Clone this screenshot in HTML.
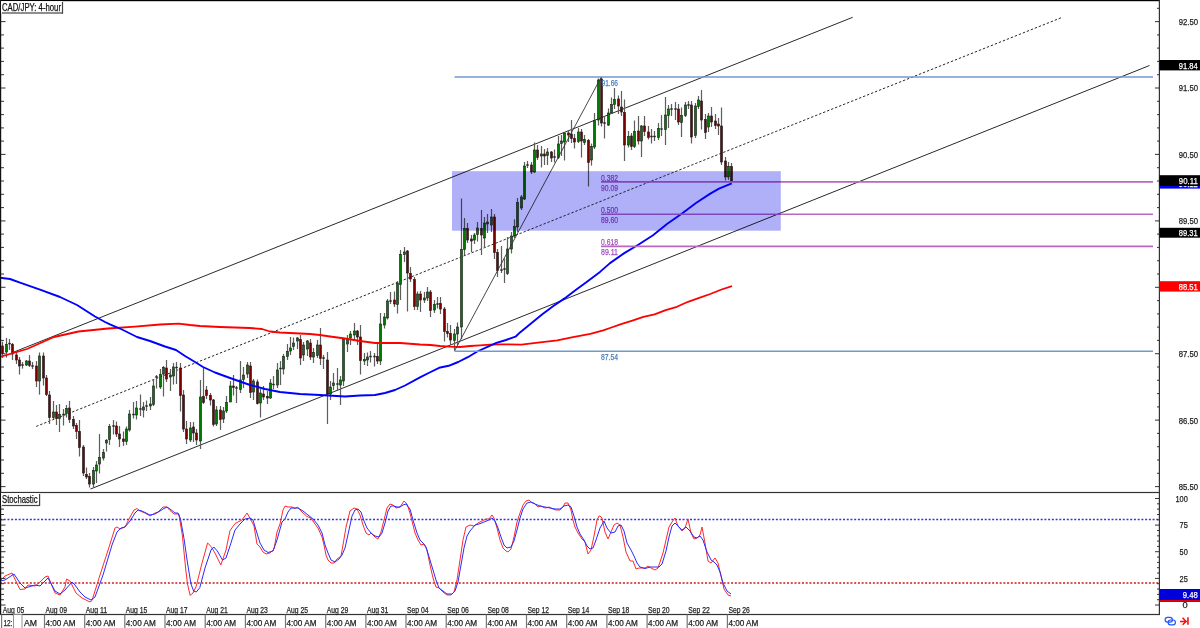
<!DOCTYPE html>
<html><head><meta charset="utf-8"><style>html,body{margin:0;padding:0;background:#fff;width:1200px;height:628px;overflow:hidden}</style></head>
<body><svg width="1200" height="628" viewBox="0 0 1200 628" style="display:block;font-family:'Liberation Sans', sans-serif"><rect width="1200" height="628" fill="#fff"/><g><line x1="14" y1="352" x2="852.7" y2="17.3" stroke="#2a2a2a" stroke-width="1"/><line x1="90.5" y1="489" x2="1149.5" y2="65.5" stroke="#2a2a2a" stroke-width="1"/><line x1="36.2" y1="426.4" x2="1061.3" y2="17.7" stroke="#2a2a2a" stroke-width="1" stroke-dasharray="2.4 1.9"/><rect x="1.90" y="341.7" width="1.2" height="16.3" fill="#5e5e5e"/><rect x="5.90" y="338.0" width="1.2" height="19.5" fill="#5e5e5e"/><rect x="8.90" y="339.0" width="1.2" height="11.0" fill="#5e5e5e"/><rect x="11.90" y="343.0" width="1.2" height="17.0" fill="#5e5e5e"/><rect x="15.90" y="352.0" width="1.2" height="12.0" fill="#5e5e5e"/><rect x="18.90" y="357.0" width="1.2" height="17.5" fill="#5e5e5e"/><rect x="21.90" y="362.0" width="1.2" height="6.6" fill="#5e5e5e"/><rect x="25.90" y="360.0" width="1.2" height="6.0" fill="#5e5e5e"/><rect x="28.90" y="355.0" width="1.2" height="12.0" fill="#5e5e5e"/><rect x="31.90" y="362.0" width="1.2" height="7.0" fill="#5e5e5e"/><rect x="35.90" y="361.0" width="1.2" height="26.0" fill="#5e5e5e"/><rect x="38.90" y="352.5" width="1.2" height="42.1" fill="#5e5e5e"/><rect x="42.90" y="352.5" width="1.2" height="33.0" fill="#5e5e5e"/><rect x="45.90" y="375.0" width="1.2" height="21.0" fill="#5e5e5e"/><rect x="48.90" y="391.0" width="1.2" height="33.0" fill="#5e5e5e"/><rect x="52.90" y="401.0" width="1.2" height="18.0" fill="#5e5e5e"/><rect x="55.90" y="405.0" width="1.2" height="20.0" fill="#5e5e5e"/><rect x="58.90" y="404.0" width="1.2" height="28.0" fill="#5e5e5e"/><rect x="62.90" y="409.0" width="1.2" height="16.5" fill="#5e5e5e"/><rect x="65.90" y="405.0" width="1.2" height="12.5" fill="#5e5e5e"/><rect x="68.90" y="401.0" width="1.2" height="22.0" fill="#5e5e5e"/><rect x="72.90" y="416.0" width="1.2" height="13.0" fill="#5e5e5e"/><rect x="75.90" y="423.0" width="1.2" height="16.0" fill="#5e5e5e"/><rect x="78.90" y="420.0" width="1.2" height="36.5" fill="#5e5e5e"/><rect x="82.90" y="445.0" width="1.2" height="31.0" fill="#5e5e5e"/><rect x="85.90" y="467.5" width="1.2" height="11.5" fill="#5e5e5e"/><rect x="88.90" y="473.0" width="1.2" height="14.5" fill="#5e5e5e"/><rect x="92.90" y="467.0" width="1.2" height="20.0" fill="#5e5e5e"/><rect x="95.90" y="461.0" width="1.2" height="22.0" fill="#5e5e5e"/><rect x="98.90" y="434.0" width="1.2" height="39.5" fill="#5e5e5e"/><rect x="102.90" y="449.0" width="1.2" height="11.5" fill="#5e5e5e"/><rect x="105.90" y="439.0" width="1.2" height="12.5" fill="#5e5e5e"/><rect x="108.90" y="424.0" width="1.2" height="21.0" fill="#5e5e5e"/><rect x="112.90" y="420.0" width="1.2" height="14.5" fill="#5e5e5e"/><rect x="115.90" y="421.5" width="1.2" height="15.5" fill="#5e5e5e"/><rect x="118.90" y="426.0" width="1.2" height="21.0" fill="#5e5e5e"/><rect x="122.90" y="431.5" width="1.2" height="14.5" fill="#5e5e5e"/><rect x="125.90" y="426.5" width="1.2" height="18.5" fill="#5e5e5e"/><rect x="128.90" y="410.0" width="1.2" height="21.5" fill="#5e5e5e"/><rect x="132.90" y="402.0" width="1.2" height="16.5" fill="#5e5e5e"/><rect x="135.90" y="401.0" width="1.2" height="18.5" fill="#5e5e5e"/><rect x="139.90" y="394.5" width="1.2" height="21.5" fill="#5e5e5e"/><rect x="142.90" y="402.0" width="1.2" height="15.5" fill="#5e5e5e"/><rect x="145.90" y="400.5" width="1.2" height="10.5" fill="#5e5e5e"/><rect x="149.90" y="397.0" width="1.2" height="13.0" fill="#5e5e5e"/><rect x="152.90" y="379.0" width="1.2" height="27.0" fill="#5e5e5e"/><rect x="155.90" y="375.0" width="1.2" height="13.5" fill="#5e5e5e"/><rect x="159.90" y="369.0" width="1.2" height="20.0" fill="#5e5e5e"/><rect x="162.90" y="366.0" width="1.2" height="30.5" fill="#5e5e5e"/><rect x="165.90" y="360.0" width="1.2" height="22.0" fill="#5e5e5e"/><rect x="169.90" y="369.0" width="1.2" height="22.0" fill="#5e5e5e"/><rect x="172.90" y="363.0" width="1.2" height="21.5" fill="#5e5e5e"/><rect x="175.90" y="362.0" width="1.2" height="22.0" fill="#5e5e5e"/><rect x="179.90" y="363.0" width="1.2" height="48.5" fill="#5e5e5e"/><rect x="182.90" y="390.0" width="1.2" height="42.0" fill="#5e5e5e"/><rect x="185.90" y="421.0" width="1.2" height="23.0" fill="#5e5e5e"/><rect x="189.90" y="422.0" width="1.2" height="20.0" fill="#5e5e5e"/><rect x="192.90" y="422.0" width="1.2" height="20.0" fill="#5e5e5e"/><rect x="195.90" y="429.0" width="1.2" height="16.0" fill="#5e5e5e"/><rect x="199.90" y="380.0" width="1.2" height="69.0" fill="#5e5e5e"/><rect x="202.90" y="368.0" width="1.2" height="36.0" fill="#5e5e5e"/><rect x="205.90" y="386.0" width="1.2" height="13.0" fill="#5e5e5e"/><rect x="209.90" y="393.0" width="1.2" height="12.5" fill="#5e5e5e"/><rect x="212.90" y="399.0" width="1.2" height="27.5" fill="#5e5e5e"/><rect x="215.90" y="406.0" width="1.2" height="20.0" fill="#5e5e5e"/><rect x="219.90" y="406.0" width="1.2" height="24.0" fill="#5e5e5e"/><rect x="222.90" y="407.0" width="1.2" height="16.0" fill="#5e5e5e"/><rect x="225.90" y="396.0" width="1.2" height="17.0" fill="#5e5e5e"/><rect x="229.90" y="381.0" width="1.2" height="21.0" fill="#5e5e5e"/><rect x="232.90" y="375.0" width="1.2" height="20.5" fill="#5e5e5e"/><rect x="235.90" y="386.0" width="1.2" height="17.0" fill="#5e5e5e"/><rect x="239.90" y="361.0" width="1.2" height="32.0" fill="#5e5e5e"/><rect x="242.90" y="367.0" width="1.2" height="21.0" fill="#5e5e5e"/><rect x="246.90" y="362.0" width="1.2" height="16.0" fill="#5e5e5e"/><rect x="249.90" y="362.0" width="1.2" height="36.0" fill="#5e5e5e"/><rect x="252.90" y="379.0" width="1.2" height="21.0" fill="#5e5e5e"/><rect x="256.90" y="379.5" width="1.2" height="25.0" fill="#5e5e5e"/><rect x="259.90" y="389.0" width="1.2" height="28.5" fill="#5e5e5e"/><rect x="262.90" y="386.0" width="1.2" height="14.0" fill="#5e5e5e"/><rect x="266.90" y="391.0" width="1.2" height="13.0" fill="#5e5e5e"/><rect x="269.90" y="379.0" width="1.2" height="20.0" fill="#5e5e5e"/><rect x="272.90" y="376.0" width="1.2" height="13.0" fill="#5e5e5e"/><rect x="276.90" y="363.0" width="1.2" height="25.0" fill="#5e5e5e"/><rect x="279.90" y="361.0" width="1.2" height="24.0" fill="#5e5e5e"/><rect x="282.90" y="354.0" width="1.2" height="20.5" fill="#5e5e5e"/><rect x="286.90" y="344.0" width="1.2" height="16.0" fill="#5e5e5e"/><rect x="289.90" y="337.0" width="1.2" height="18.0" fill="#5e5e5e"/><rect x="292.90" y="337.5" width="1.2" height="12.5" fill="#5e5e5e"/><rect x="296.90" y="337.0" width="1.2" height="12.0" fill="#5e5e5e"/><rect x="299.90" y="335.0" width="1.2" height="30.0" fill="#5e5e5e"/><rect x="302.90" y="342.0" width="1.2" height="19.0" fill="#5e5e5e"/><rect x="306.90" y="340.0" width="1.2" height="16.0" fill="#5e5e5e"/><rect x="309.90" y="339.0" width="1.2" height="21.0" fill="#5e5e5e"/><rect x="312.90" y="348.0" width="1.2" height="15.0" fill="#5e5e5e"/><rect x="316.90" y="340.0" width="1.2" height="18.0" fill="#5e5e5e"/><rect x="319.90" y="328.0" width="1.2" height="37.0" fill="#5e5e5e"/><rect x="322.90" y="355.0" width="1.2" height="14.0" fill="#5e5e5e"/><rect x="326.90" y="352.0" width="1.2" height="72.0" fill="#5e5e5e"/><rect x="329.90" y="381.0" width="1.2" height="19.0" fill="#5e5e5e"/><rect x="332.90" y="373.0" width="1.2" height="17.0" fill="#5e5e5e"/><rect x="336.90" y="368.0" width="1.2" height="23.0" fill="#5e5e5e"/><rect x="339.90" y="376.0" width="1.2" height="29.0" fill="#5e5e5e"/><rect x="342.90" y="338.0" width="1.2" height="48.0" fill="#5e5e5e"/><rect x="346.90" y="335.0" width="1.2" height="17.0" fill="#5e5e5e"/><rect x="349.90" y="331.0" width="1.2" height="14.0" fill="#5e5e5e"/><rect x="353.90" y="323.0" width="1.2" height="17.0" fill="#5e5e5e"/><rect x="356.90" y="330.0" width="1.2" height="15.0" fill="#5e5e5e"/><rect x="359.90" y="325.0" width="1.2" height="49.5" fill="#5e5e5e"/><rect x="363.90" y="353.0" width="1.2" height="12.0" fill="#5e5e5e"/><rect x="366.90" y="352.5" width="1.2" height="13.5" fill="#5e5e5e"/><rect x="369.90" y="351.0" width="1.2" height="11.5" fill="#5e5e5e"/><rect x="373.90" y="353.0" width="1.2" height="13.5" fill="#5e5e5e"/><rect x="376.90" y="343.5" width="1.2" height="20.5" fill="#5e5e5e"/><rect x="379.90" y="313.0" width="1.2" height="52.0" fill="#5e5e5e"/><rect x="383.90" y="313.0" width="1.2" height="15.5" fill="#5e5e5e"/><rect x="386.90" y="299.0" width="1.2" height="20.5" fill="#5e5e5e"/><rect x="389.90" y="292.0" width="1.2" height="12.0" fill="#5e5e5e"/><rect x="393.90" y="291.5" width="1.2" height="15.5" fill="#5e5e5e"/><rect x="396.90" y="281.0" width="1.2" height="32.5" fill="#5e5e5e"/><rect x="399.90" y="250.0" width="1.2" height="50.0" fill="#5e5e5e"/><rect x="403.90" y="247.0" width="1.2" height="15.0" fill="#5e5e5e"/><rect x="406.90" y="250.0" width="1.2" height="61.5" fill="#5e5e5e"/><rect x="409.90" y="267.0" width="1.2" height="15.0" fill="#5e5e5e"/><rect x="413.90" y="277.0" width="1.2" height="33.0" fill="#5e5e5e"/><rect x="416.90" y="291.5" width="1.2" height="18.5" fill="#5e5e5e"/><rect x="419.90" y="291.0" width="1.2" height="21.0" fill="#5e5e5e"/><rect x="423.90" y="292.0" width="1.2" height="11.0" fill="#5e5e5e"/><rect x="426.90" y="287.0" width="1.2" height="14.0" fill="#5e5e5e"/><rect x="429.90" y="290.0" width="1.2" height="27.0" fill="#5e5e5e"/><rect x="433.90" y="300.0" width="1.2" height="13.0" fill="#5e5e5e"/><rect x="436.90" y="297.0" width="1.2" height="11.5" fill="#5e5e5e"/><rect x="439.90" y="297.0" width="1.2" height="17.0" fill="#5e5e5e"/><rect x="443.90" y="307.0" width="1.2" height="34.5" fill="#5e5e5e"/><rect x="446.90" y="323.0" width="1.2" height="14.5" fill="#5e5e5e"/><rect x="449.90" y="325.0" width="1.2" height="20.0" fill="#5e5e5e"/><rect x="453.90" y="329.0" width="1.2" height="21.0" fill="#5e5e5e"/><rect x="456.90" y="322.5" width="1.2" height="22.5" fill="#5e5e5e"/><rect x="460.90" y="198.5" width="1.2" height="140.5" fill="#5e5e5e"/><rect x="463.90" y="218.0" width="1.2" height="37.0" fill="#5e5e5e"/><rect x="466.90" y="223.0" width="1.2" height="20.0" fill="#5e5e5e"/><rect x="470.90" y="235.0" width="1.2" height="17.0" fill="#5e5e5e"/><rect x="473.90" y="233.0" width="1.2" height="11.0" fill="#5e5e5e"/><rect x="476.90" y="222.0" width="1.2" height="19.5" fill="#5e5e5e"/><rect x="480.90" y="210.0" width="1.2" height="45.0" fill="#5e5e5e"/><rect x="483.90" y="217.0" width="1.2" height="31.0" fill="#5e5e5e"/><rect x="486.90" y="214.0" width="1.2" height="19.0" fill="#5e5e5e"/><rect x="490.90" y="209.0" width="1.2" height="23.0" fill="#5e5e5e"/><rect x="493.90" y="214.0" width="1.2" height="45.0" fill="#5e5e5e"/><rect x="496.90" y="249.0" width="1.2" height="28.0" fill="#5e5e5e"/><rect x="500.90" y="246.0" width="1.2" height="27.0" fill="#5e5e5e"/><rect x="503.90" y="258.5" width="1.2" height="24.5" fill="#5e5e5e"/><rect x="506.90" y="237.0" width="1.2" height="38.0" fill="#5e5e5e"/><rect x="510.90" y="232.0" width="1.2" height="21.5" fill="#5e5e5e"/><rect x="513.90" y="219.3" width="1.2" height="18.7" fill="#5e5e5e"/><rect x="516.90" y="198.0" width="1.2" height="34.0" fill="#5e5e5e"/><rect x="520.90" y="195.0" width="1.2" height="15.0" fill="#5e5e5e"/><rect x="523.90" y="162.0" width="1.2" height="38.0" fill="#5e5e5e"/><rect x="526.90" y="161.0" width="1.2" height="7.0" fill="#5e5e5e"/><rect x="530.90" y="162.0" width="1.2" height="12.0" fill="#5e5e5e"/><rect x="533.90" y="142.5" width="1.2" height="30.5" fill="#5e5e5e"/><rect x="536.90" y="145.0" width="1.2" height="15.0" fill="#5e5e5e"/><rect x="540.90" y="146.0" width="1.2" height="21.5" fill="#5e5e5e"/><rect x="543.90" y="149.0" width="1.2" height="16.0" fill="#5e5e5e"/><rect x="546.90" y="148.0" width="1.2" height="17.0" fill="#5e5e5e"/><rect x="550.90" y="151.0" width="1.2" height="11.0" fill="#5e5e5e"/><rect x="553.90" y="149.5" width="1.2" height="13.0" fill="#5e5e5e"/><rect x="557.90" y="136.0" width="1.2" height="23.0" fill="#5e5e5e"/><rect x="560.90" y="135.0" width="1.2" height="21.0" fill="#5e5e5e"/><rect x="563.90" y="132.0" width="1.2" height="28.5" fill="#5e5e5e"/><rect x="567.90" y="130.0" width="1.2" height="12.0" fill="#5e5e5e"/><rect x="570.90" y="120.0" width="1.2" height="23.0" fill="#5e5e5e"/><rect x="573.90" y="134.0" width="1.2" height="14.5" fill="#5e5e5e"/><rect x="577.90" y="128.0" width="1.2" height="15.0" fill="#5e5e5e"/><rect x="580.90" y="129.0" width="1.2" height="28.5" fill="#5e5e5e"/><rect x="583.90" y="135.0" width="1.2" height="10.0" fill="#5e5e5e"/><rect x="587.90" y="139.0" width="1.2" height="47.5" fill="#5e5e5e"/><rect x="590.90" y="143.6" width="1.2" height="22.0" fill="#5e5e5e"/><rect x="593.90" y="113.0" width="1.2" height="36.0" fill="#5e5e5e"/><rect x="597.90" y="78.5" width="1.2" height="47.0" fill="#5e5e5e"/><rect x="600.90" y="77.0" width="1.2" height="49.5" fill="#5e5e5e"/><rect x="603.90" y="116.5" width="1.2" height="22.0" fill="#5e5e5e"/><rect x="607.90" y="108.5" width="1.2" height="17.5" fill="#5e5e5e"/><rect x="610.90" y="97.5" width="1.2" height="16.5" fill="#5e5e5e"/><rect x="613.90" y="88.0" width="1.2" height="21.0" fill="#5e5e5e"/><rect x="617.90" y="95.5" width="1.2" height="18.5" fill="#5e5e5e"/><rect x="620.90" y="91.0" width="1.2" height="25.0" fill="#5e5e5e"/><rect x="623.90" y="99.5" width="1.2" height="61.5" fill="#5e5e5e"/><rect x="627.90" y="131.0" width="1.2" height="16.5" fill="#5e5e5e"/><rect x="630.90" y="133.0" width="1.2" height="17.0" fill="#5e5e5e"/><rect x="633.90" y="120.5" width="1.2" height="27.5" fill="#5e5e5e"/><rect x="637.90" y="116.0" width="1.2" height="28.5" fill="#5e5e5e"/><rect x="640.90" y="125.0" width="1.2" height="32.0" fill="#5e5e5e"/><rect x="643.90" y="116.0" width="1.2" height="20.0" fill="#5e5e5e"/><rect x="647.90" y="126.0" width="1.2" height="13.5" fill="#5e5e5e"/><rect x="650.90" y="129.0" width="1.2" height="14.5" fill="#5e5e5e"/><rect x="653.90" y="131.0" width="1.2" height="10.0" fill="#5e5e5e"/><rect x="657.90" y="123.0" width="1.2" height="17.0" fill="#5e5e5e"/><rect x="660.90" y="115.0" width="1.2" height="21.0" fill="#5e5e5e"/><rect x="664.90" y="97.0" width="1.2" height="48.0" fill="#5e5e5e"/><rect x="667.90" y="105.0" width="1.2" height="23.0" fill="#5e5e5e"/><rect x="670.90" y="104.0" width="1.2" height="12.0" fill="#5e5e5e"/><rect x="674.90" y="102.0" width="1.2" height="18.0" fill="#5e5e5e"/><rect x="677.90" y="104.0" width="1.2" height="21.0" fill="#5e5e5e"/><rect x="680.90" y="107.5" width="1.2" height="29.5" fill="#5e5e5e"/><rect x="684.90" y="102.0" width="1.2" height="15.0" fill="#5e5e5e"/><rect x="687.90" y="101.0" width="1.2" height="8.0" fill="#5e5e5e"/><rect x="690.90" y="101.0" width="1.2" height="42.5" fill="#5e5e5e"/><rect x="694.90" y="103.0" width="1.2" height="35.0" fill="#5e5e5e"/><rect x="697.90" y="96.0" width="1.2" height="13.0" fill="#5e5e5e"/><rect x="700.90" y="90.0" width="1.2" height="39.5" fill="#5e5e5e"/><rect x="704.90" y="114.0" width="1.2" height="25.0" fill="#5e5e5e"/><rect x="707.90" y="113.0" width="1.2" height="19.0" fill="#5e5e5e"/><rect x="710.90" y="107.0" width="1.2" height="20.0" fill="#5e5e5e"/><rect x="714.90" y="114.0" width="1.2" height="15.0" fill="#5e5e5e"/><rect x="717.90" y="118.0" width="1.2" height="17.0" fill="#5e5e5e"/><rect x="720.90" y="107.5" width="1.2" height="57.5" fill="#5e5e5e"/><rect x="724.90" y="157.0" width="1.2" height="23.5" fill="#5e5e5e"/><rect x="727.90" y="162.0" width="1.2" height="18.0" fill="#5e5e5e"/><rect x="730.90" y="163.0" width="1.2" height="18.5" fill="#5e5e5e"/><rect x="1.50" y="346.0" width="2" height="7.6" fill="#7a0000" stroke="#1a1a1a" stroke-width="0.6"/><rect x="5.50" y="344.5" width="2" height="7.5" fill="#007a00" stroke="#1a1a1a" stroke-width="0.6"/><rect x="8.25" y="342.9" width="2.5" height="1.4" fill="#222"/><rect x="11.50" y="344.5" width="2" height="9.5" fill="#7a0000" stroke="#1a1a1a" stroke-width="0.6"/><rect x="15.50" y="355.0" width="2" height="5.0" fill="#7a0000" stroke="#1a1a1a" stroke-width="0.6"/><rect x="18.50" y="360.0" width="2" height="6.0" fill="#7a0000" stroke="#1a1a1a" stroke-width="0.6"/><rect x="21.25" y="364.3" width="2.5" height="1.4" fill="#222"/><rect x="25.50" y="361.0" width="2" height="4.0" fill="#007a00" stroke="#1a1a1a" stroke-width="0.6"/><rect x="28.50" y="361.0" width="2" height="4.5" fill="#7a0000" stroke="#1a1a1a" stroke-width="0.6"/><rect x="31.25" y="365.3" width="2.5" height="1.4" fill="#222"/><rect x="35.50" y="366.0" width="2" height="15.0" fill="#7a0000" stroke="#1a1a1a" stroke-width="0.6"/><rect x="38.50" y="356.0" width="2" height="25.0" fill="#007a00" stroke="#1a1a1a" stroke-width="0.6"/><rect x="42.50" y="356.0" width="2" height="22.0" fill="#7a0000" stroke="#1a1a1a" stroke-width="0.6"/><rect x="45.50" y="378.0" width="2" height="16.5" fill="#7a0000" stroke="#1a1a1a" stroke-width="0.6"/><rect x="48.50" y="395.0" width="2" height="22.5" fill="#7a0000" stroke="#1a1a1a" stroke-width="0.6"/><rect x="52.50" y="412.0" width="2" height="5.5" fill="#007a00" stroke="#1a1a1a" stroke-width="0.6"/><rect x="55.50" y="412.0" width="2" height="6.5" fill="#7a0000" stroke="#1a1a1a" stroke-width="0.6"/><rect x="58.50" y="414.5" width="2" height="4.0" fill="#007a00" stroke="#1a1a1a" stroke-width="0.6"/><rect x="62.25" y="413.8" width="2.5" height="1.4" fill="#222"/><rect x="65.50" y="408.5" width="2" height="5.0" fill="#007a00" stroke="#1a1a1a" stroke-width="0.6"/><rect x="68.50" y="408.0" width="2" height="11.5" fill="#7a0000" stroke="#1a1a1a" stroke-width="0.6"/><rect x="72.50" y="419.5" width="2" height="6.5" fill="#7a0000" stroke="#1a1a1a" stroke-width="0.6"/><rect x="75.50" y="425.5" width="2" height="6.0" fill="#7a0000" stroke="#1a1a1a" stroke-width="0.6"/><rect x="78.50" y="431.5" width="2" height="16.0" fill="#7a0000" stroke="#1a1a1a" stroke-width="0.6"/><rect x="82.50" y="447.0" width="2" height="26.0" fill="#7a0000" stroke="#1a1a1a" stroke-width="0.6"/><rect x="85.50" y="474.5" width="2" height="2.5" fill="#7a0000" stroke="#1a1a1a" stroke-width="0.6"/><rect x="88.50" y="476.5" width="2" height="7.5" fill="#7a0000" stroke="#1a1a1a" stroke-width="0.6"/><rect x="92.50" y="470.5" width="2" height="13.5" fill="#007a00" stroke="#1a1a1a" stroke-width="0.6"/><rect x="95.50" y="465.0" width="2" height="6.0" fill="#007a00" stroke="#1a1a1a" stroke-width="0.6"/><rect x="98.50" y="457.5" width="2" height="6.5" fill="#007a00" stroke="#1a1a1a" stroke-width="0.6"/><rect x="102.50" y="452.5" width="2" height="5.5" fill="#007a00" stroke="#1a1a1a" stroke-width="0.6"/><rect x="105.50" y="440.5" width="2" height="2.5" fill="#007a00" stroke="#1a1a1a" stroke-width="0.6"/><rect x="108.50" y="426.5" width="2" height="13.0" fill="#007a00" stroke="#1a1a1a" stroke-width="0.6"/><rect x="112.25" y="425.3" width="2.5" height="1.4" fill="#222"/><rect x="115.50" y="426.0" width="2" height="8.0" fill="#7a0000" stroke="#1a1a1a" stroke-width="0.6"/><rect x="118.50" y="434.0" width="2" height="5.0" fill="#7a0000" stroke="#1a1a1a" stroke-width="0.6"/><rect x="122.50" y="439.0" width="2" height="2.5" fill="#7a0000" stroke="#1a1a1a" stroke-width="0.6"/><rect x="125.50" y="429.0" width="2" height="12.5" fill="#007a00" stroke="#1a1a1a" stroke-width="0.6"/><rect x="128.50" y="414.0" width="2" height="16.0" fill="#007a00" stroke="#1a1a1a" stroke-width="0.6"/><rect x="132.25" y="413.8" width="2.5" height="1.4" fill="#222"/><rect x="135.50" y="408.0" width="2" height="7.0" fill="#007a00" stroke="#1a1a1a" stroke-width="0.6"/><rect x="139.25" y="408.3" width="2.5" height="1.4" fill="#222"/><rect x="142.50" y="407.0" width="2" height="3.0" fill="#007a00" stroke="#1a1a1a" stroke-width="0.6"/><rect x="145.25" y="405.3" width="2.5" height="1.4" fill="#222"/><rect x="149.50" y="404.0" width="2" height="2.0" fill="#007a00" stroke="#1a1a1a" stroke-width="0.6"/><rect x="152.50" y="386.0" width="2" height="18.5" fill="#007a00" stroke="#1a1a1a" stroke-width="0.6"/><rect x="155.25" y="376.3" width="2.5" height="1.4" fill="#222"/><rect x="159.50" y="374.5" width="2" height="12.5" fill="#007a00" stroke="#1a1a1a" stroke-width="0.6"/><rect x="162.50" y="367.5" width="2" height="6.5" fill="#007a00" stroke="#1a1a1a" stroke-width="0.6"/><rect x="165.50" y="368.0" width="2" height="11.0" fill="#7a0000" stroke="#1a1a1a" stroke-width="0.6"/><rect x="169.50" y="375.0" width="2" height="2.0" fill="#007a00" stroke="#1a1a1a" stroke-width="0.6"/><rect x="172.50" y="367.0" width="2" height="9.0" fill="#007a00" stroke="#1a1a1a" stroke-width="0.6"/><rect x="175.25" y="366.8" width="2.5" height="1.4" fill="#222"/><rect x="179.50" y="368.0" width="2" height="27.5" fill="#7a0000" stroke="#1a1a1a" stroke-width="0.6"/><rect x="182.50" y="395.0" width="2" height="34.0" fill="#7a0000" stroke="#1a1a1a" stroke-width="0.6"/><rect x="185.50" y="429.0" width="2" height="10.0" fill="#7a0000" stroke="#1a1a1a" stroke-width="0.6"/><rect x="189.50" y="428.0" width="2" height="12.0" fill="#007a00" stroke="#1a1a1a" stroke-width="0.6"/><rect x="192.50" y="427.0" width="2" height="6.0" fill="#7a0000" stroke="#1a1a1a" stroke-width="0.6"/><rect x="195.50" y="433.0" width="2" height="7.0" fill="#7a0000" stroke="#1a1a1a" stroke-width="0.6"/><rect x="199.50" y="397.0" width="2" height="44.0" fill="#007a00" stroke="#1a1a1a" stroke-width="0.6"/><rect x="202.50" y="396.5" width="2" height="6.0" fill="#7a0000" stroke="#1a1a1a" stroke-width="0.6"/><rect x="205.50" y="390.0" width="2" height="5.5" fill="#7a0000" stroke="#1a1a1a" stroke-width="0.6"/><rect x="209.50" y="395.5" width="2" height="4.5" fill="#7a0000" stroke="#1a1a1a" stroke-width="0.6"/><rect x="212.50" y="400.0" width="2" height="24.5" fill="#7a0000" stroke="#1a1a1a" stroke-width="0.6"/><rect x="215.50" y="410.0" width="2" height="14.0" fill="#007a00" stroke="#1a1a1a" stroke-width="0.6"/><rect x="219.50" y="410.0" width="2" height="9.5" fill="#7a0000" stroke="#1a1a1a" stroke-width="0.6"/><rect x="222.50" y="411.0" width="2" height="8.0" fill="#007a00" stroke="#1a1a1a" stroke-width="0.6"/><rect x="225.50" y="402.5" width="2" height="8.5" fill="#007a00" stroke="#1a1a1a" stroke-width="0.6"/><rect x="229.50" y="386.0" width="2" height="16.0" fill="#007a00" stroke="#1a1a1a" stroke-width="0.6"/><rect x="232.50" y="386.0" width="2" height="1.5" fill="#7a0000" stroke="#1a1a1a" stroke-width="0.6"/><rect x="235.25" y="387.3" width="2.5" height="1.4" fill="#222"/><rect x="239.50" y="380.0" width="2" height="9.5" fill="#007a00" stroke="#1a1a1a" stroke-width="0.6"/><rect x="242.50" y="375.0" width="2" height="4.5" fill="#007a00" stroke="#1a1a1a" stroke-width="0.6"/><rect x="246.50" y="365.0" width="2" height="9.0" fill="#007a00" stroke="#1a1a1a" stroke-width="0.6"/><rect x="249.50" y="366.0" width="2" height="26.5" fill="#7a0000" stroke="#1a1a1a" stroke-width="0.6"/><rect x="252.50" y="381.0" width="2" height="11.0" fill="#007a00" stroke="#1a1a1a" stroke-width="0.6"/><rect x="256.50" y="382.0" width="2" height="21.5" fill="#7a0000" stroke="#1a1a1a" stroke-width="0.6"/><rect x="259.50" y="393.0" width="2" height="10.0" fill="#007a00" stroke="#1a1a1a" stroke-width="0.6"/><rect x="262.50" y="394.0" width="2" height="3.0" fill="#7a0000" stroke="#1a1a1a" stroke-width="0.6"/><rect x="266.50" y="396.5" width="2" height="1.5" fill="#7a0000" stroke="#1a1a1a" stroke-width="0.6"/><rect x="269.50" y="383.0" width="2" height="15.0" fill="#007a00" stroke="#1a1a1a" stroke-width="0.6"/><rect x="272.25" y="383.8" width="2.5" height="1.4" fill="#222"/><rect x="276.50" y="370.0" width="2" height="15.0" fill="#007a00" stroke="#1a1a1a" stroke-width="0.6"/><rect x="279.25" y="367.8" width="2.5" height="1.4" fill="#222"/><rect x="282.50" y="356.5" width="2" height="12.5" fill="#007a00" stroke="#1a1a1a" stroke-width="0.6"/><rect x="286.50" y="351.5" width="2" height="5.0" fill="#007a00" stroke="#1a1a1a" stroke-width="0.6"/><rect x="289.50" y="348.0" width="2" height="3.0" fill="#007a00" stroke="#1a1a1a" stroke-width="0.6"/><rect x="292.50" y="343.0" width="2" height="3.5" fill="#007a00" stroke="#1a1a1a" stroke-width="0.6"/><rect x="296.50" y="338.0" width="2" height="3.0" fill="#007a00" stroke="#1a1a1a" stroke-width="0.6"/><rect x="299.50" y="339.5" width="2" height="18.5" fill="#7a0000" stroke="#1a1a1a" stroke-width="0.6"/><rect x="302.50" y="345.0" width="2" height="10.0" fill="#007a00" stroke="#1a1a1a" stroke-width="0.6"/><rect x="306.50" y="341.0" width="2" height="8.0" fill="#007a00" stroke="#1a1a1a" stroke-width="0.6"/><rect x="309.50" y="343.0" width="2" height="14.0" fill="#7a0000" stroke="#1a1a1a" stroke-width="0.6"/><rect x="312.50" y="352.5" width="2" height="4.5" fill="#007a00" stroke="#1a1a1a" stroke-width="0.6"/><rect x="316.50" y="345.0" width="2" height="10.5" fill="#007a00" stroke="#1a1a1a" stroke-width="0.6"/><rect x="319.50" y="345.0" width="2" height="13.5" fill="#7a0000" stroke="#1a1a1a" stroke-width="0.6"/><rect x="322.25" y="357.3" width="2.5" height="1.4" fill="#222"/><rect x="326.50" y="360.0" width="2" height="34.0" fill="#7a0000" stroke="#1a1a1a" stroke-width="0.6"/><rect x="329.50" y="387.0" width="2" height="7.0" fill="#007a00" stroke="#1a1a1a" stroke-width="0.6"/><rect x="332.50" y="383.0" width="2" height="2.5" fill="#007a00" stroke="#1a1a1a" stroke-width="0.6"/><rect x="336.25" y="383.3" width="2.5" height="1.4" fill="#222"/><rect x="339.50" y="380.0" width="2" height="5.0" fill="#007a00" stroke="#1a1a1a" stroke-width="0.6"/><rect x="342.50" y="339.0" width="2" height="42.0" fill="#007a00" stroke="#1a1a1a" stroke-width="0.6"/><rect x="346.50" y="339.0" width="2" height="5.0" fill="#007a00" stroke="#1a1a1a" stroke-width="0.6"/><rect x="349.50" y="334.0" width="2" height="4.0" fill="#007a00" stroke="#1a1a1a" stroke-width="0.6"/><rect x="353.50" y="331.0" width="2" height="4.0" fill="#007a00" stroke="#1a1a1a" stroke-width="0.6"/><rect x="356.50" y="331.0" width="2" height="6.0" fill="#7a0000" stroke="#1a1a1a" stroke-width="0.6"/><rect x="359.50" y="337.0" width="2" height="23.5" fill="#7a0000" stroke="#1a1a1a" stroke-width="0.6"/><rect x="363.50" y="359.5" width="2" height="1.5" fill="#007a00" stroke="#1a1a1a" stroke-width="0.6"/><rect x="366.50" y="357.0" width="2" height="3.0" fill="#007a00" stroke="#1a1a1a" stroke-width="0.6"/><rect x="369.25" y="355.8" width="2.5" height="1.4" fill="#222"/><rect x="373.25" y="355.8" width="2.5" height="1.4" fill="#222"/><rect x="376.50" y="356.5" width="2" height="4.5" fill="#7a0000" stroke="#1a1a1a" stroke-width="0.6"/><rect x="379.50" y="324.0" width="2" height="37.0" fill="#007a00" stroke="#1a1a1a" stroke-width="0.6"/><rect x="383.50" y="317.0" width="2" height="8.0" fill="#007a00" stroke="#1a1a1a" stroke-width="0.6"/><rect x="386.50" y="301.0" width="2" height="17.0" fill="#007a00" stroke="#1a1a1a" stroke-width="0.6"/><rect x="389.25" y="300.3" width="2.5" height="1.4" fill="#222"/><rect x="393.50" y="300.0" width="2" height="4.0" fill="#7a0000" stroke="#1a1a1a" stroke-width="0.6"/><rect x="396.50" y="283.0" width="2" height="21.5" fill="#007a00" stroke="#1a1a1a" stroke-width="0.6"/><rect x="399.50" y="254.5" width="2" height="30.0" fill="#007a00" stroke="#1a1a1a" stroke-width="0.6"/><rect x="403.50" y="252.0" width="2" height="2.5" fill="#007a00" stroke="#1a1a1a" stroke-width="0.6"/><rect x="406.50" y="251.0" width="2" height="22.0" fill="#7a0000" stroke="#1a1a1a" stroke-width="0.6"/><rect x="409.50" y="273.5" width="2" height="5.5" fill="#7a0000" stroke="#1a1a1a" stroke-width="0.6"/><rect x="413.50" y="279.5" width="2" height="27.0" fill="#7a0000" stroke="#1a1a1a" stroke-width="0.6"/><rect x="416.50" y="294.0" width="2" height="12.5" fill="#007a00" stroke="#1a1a1a" stroke-width="0.6"/><rect x="419.50" y="294.0" width="2" height="6.0" fill="#7a0000" stroke="#1a1a1a" stroke-width="0.6"/><rect x="423.50" y="298.0" width="2" height="2.0" fill="#007a00" stroke="#1a1a1a" stroke-width="0.6"/><rect x="426.50" y="292.0" width="2" height="6.0" fill="#007a00" stroke="#1a1a1a" stroke-width="0.6"/><rect x="429.50" y="292.0" width="2" height="18.5" fill="#7a0000" stroke="#1a1a1a" stroke-width="0.6"/><rect x="433.50" y="304.5" width="2" height="5.5" fill="#007a00" stroke="#1a1a1a" stroke-width="0.6"/><rect x="436.25" y="303.3" width="2.5" height="1.4" fill="#222"/><rect x="439.50" y="303.5" width="2" height="5.5" fill="#7a0000" stroke="#1a1a1a" stroke-width="0.6"/><rect x="443.50" y="309.0" width="2" height="22.5" fill="#7a0000" stroke="#1a1a1a" stroke-width="0.6"/><rect x="446.50" y="331.5" width="2" height="2.0" fill="#7a0000" stroke="#1a1a1a" stroke-width="0.6"/><rect x="449.50" y="333.5" width="2" height="6.5" fill="#7a0000" stroke="#1a1a1a" stroke-width="0.6"/><rect x="453.50" y="334.0" width="2" height="6.5" fill="#007a00" stroke="#1a1a1a" stroke-width="0.6"/><rect x="456.50" y="327.0" width="2" height="7.0" fill="#007a00" stroke="#1a1a1a" stroke-width="0.6"/><rect x="460.50" y="249.5" width="2" height="77.5" fill="#007a00" stroke="#1a1a1a" stroke-width="0.6"/><rect x="463.50" y="228.5" width="2" height="21.0" fill="#007a00" stroke="#1a1a1a" stroke-width="0.6"/><rect x="466.50" y="228.5" width="2" height="11.5" fill="#7a0000" stroke="#1a1a1a" stroke-width="0.6"/><rect x="470.50" y="239.0" width="2" height="2.0" fill="#7a0000" stroke="#1a1a1a" stroke-width="0.6"/><rect x="473.50" y="235.0" width="2" height="5.0" fill="#007a00" stroke="#1a1a1a" stroke-width="0.6"/><rect x="476.50" y="228.0" width="2" height="6.5" fill="#007a00" stroke="#1a1a1a" stroke-width="0.6"/><rect x="480.50" y="228.5" width="2" height="6.5" fill="#7a0000" stroke="#1a1a1a" stroke-width="0.6"/><rect x="483.50" y="223.0" width="2" height="15.0" fill="#007a00" stroke="#1a1a1a" stroke-width="0.6"/><rect x="486.50" y="222.0" width="2" height="2.0" fill="#007a00" stroke="#1a1a1a" stroke-width="0.6"/><rect x="490.50" y="217.0" width="2" height="8.0" fill="#007a00" stroke="#1a1a1a" stroke-width="0.6"/><rect x="493.50" y="217.0" width="2" height="35.5" fill="#7a0000" stroke="#1a1a1a" stroke-width="0.6"/><rect x="496.50" y="252.5" width="2" height="18.0" fill="#7a0000" stroke="#1a1a1a" stroke-width="0.6"/><rect x="500.25" y="269.3" width="2.5" height="1.4" fill="#222"/><rect x="503.25" y="268.3" width="2.5" height="1.4" fill="#222"/><rect x="506.50" y="249.0" width="2" height="24.5" fill="#007a00" stroke="#1a1a1a" stroke-width="0.6"/><rect x="510.50" y="236.0" width="2" height="13.0" fill="#007a00" stroke="#1a1a1a" stroke-width="0.6"/><rect x="513.50" y="226.5" width="2" height="9.5" fill="#007a00" stroke="#1a1a1a" stroke-width="0.6"/><rect x="516.50" y="202.5" width="2" height="24.5" fill="#007a00" stroke="#1a1a1a" stroke-width="0.6"/><rect x="520.50" y="197.0" width="2" height="11.0" fill="#007a00" stroke="#1a1a1a" stroke-width="0.6"/><rect x="523.50" y="166.0" width="2" height="33.0" fill="#007a00" stroke="#1a1a1a" stroke-width="0.6"/><rect x="526.25" y="164.3" width="2.5" height="1.4" fill="#222"/><rect x="530.50" y="165.0" width="2" height="7.0" fill="#7a0000" stroke="#1a1a1a" stroke-width="0.6"/><rect x="533.50" y="150.0" width="2" height="22.0" fill="#007a00" stroke="#1a1a1a" stroke-width="0.6"/><rect x="536.50" y="150.0" width="2" height="7.5" fill="#7a0000" stroke="#1a1a1a" stroke-width="0.6"/><rect x="540.50" y="154.0" width="2" height="2.0" fill="#007a00" stroke="#1a1a1a" stroke-width="0.6"/><rect x="543.50" y="154.0" width="2" height="2.0" fill="#7a0000" stroke="#1a1a1a" stroke-width="0.6"/><rect x="546.50" y="152.0" width="2" height="3.5" fill="#007a00" stroke="#1a1a1a" stroke-width="0.6"/><rect x="550.50" y="152.0" width="2" height="6.0" fill="#7a0000" stroke="#1a1a1a" stroke-width="0.6"/><rect x="553.25" y="156.3" width="2.5" height="1.4" fill="#222"/><rect x="557.50" y="144.0" width="2" height="13.5" fill="#007a00" stroke="#1a1a1a" stroke-width="0.6"/><rect x="560.50" y="141.0" width="2" height="2.5" fill="#007a00" stroke="#1a1a1a" stroke-width="0.6"/><rect x="563.50" y="133.0" width="2" height="9.0" fill="#007a00" stroke="#1a1a1a" stroke-width="0.6"/><rect x="567.50" y="133.0" width="2" height="2.0" fill="#7a0000" stroke="#1a1a1a" stroke-width="0.6"/><rect x="570.50" y="134.0" width="2" height="4.5" fill="#7a0000" stroke="#1a1a1a" stroke-width="0.6"/><rect x="573.50" y="138.5" width="2" height="3.5" fill="#7a0000" stroke="#1a1a1a" stroke-width="0.6"/><rect x="577.50" y="132.0" width="2" height="9.5" fill="#007a00" stroke="#1a1a1a" stroke-width="0.6"/><rect x="580.50" y="132.0" width="2" height="9.0" fill="#7a0000" stroke="#1a1a1a" stroke-width="0.6"/><rect x="583.50" y="139.5" width="2" height="3.0" fill="#007a00" stroke="#1a1a1a" stroke-width="0.6"/><rect x="587.50" y="140.5" width="2" height="22.0" fill="#7a0000" stroke="#1a1a1a" stroke-width="0.6"/><rect x="590.50" y="146.5" width="2" height="13.5" fill="#007a00" stroke="#1a1a1a" stroke-width="0.6"/><rect x="593.50" y="120.5" width="2" height="26.5" fill="#007a00" stroke="#1a1a1a" stroke-width="0.6"/><rect x="597.50" y="80.0" width="2" height="40.0" fill="#007a00" stroke="#1a1a1a" stroke-width="0.6"/><rect x="600.50" y="79.0" width="2" height="44.0" fill="#7a0000" stroke="#1a1a1a" stroke-width="0.6"/><rect x="603.25" y="122.3" width="2.5" height="1.4" fill="#222"/><rect x="607.50" y="113.0" width="2" height="12.0" fill="#007a00" stroke="#1a1a1a" stroke-width="0.6"/><rect x="610.50" y="104.5" width="2" height="8.5" fill="#007a00" stroke="#1a1a1a" stroke-width="0.6"/><rect x="613.50" y="99.5" width="2" height="5.0" fill="#007a00" stroke="#1a1a1a" stroke-width="0.6"/><rect x="617.50" y="99.0" width="2" height="7.0" fill="#7a0000" stroke="#1a1a1a" stroke-width="0.6"/><rect x="620.50" y="107.0" width="2" height="5.0" fill="#7a0000" stroke="#1a1a1a" stroke-width="0.6"/><rect x="623.50" y="112.5" width="2" height="32.5" fill="#7a0000" stroke="#1a1a1a" stroke-width="0.6"/><rect x="627.50" y="136.5" width="2" height="8.5" fill="#007a00" stroke="#1a1a1a" stroke-width="0.6"/><rect x="630.50" y="136.0" width="2" height="10.5" fill="#7a0000" stroke="#1a1a1a" stroke-width="0.6"/><rect x="633.50" y="131.5" width="2" height="15.0" fill="#007a00" stroke="#1a1a1a" stroke-width="0.6"/><rect x="637.50" y="131.0" width="2" height="10.0" fill="#7a0000" stroke="#1a1a1a" stroke-width="0.6"/><rect x="640.50" y="126.0" width="2" height="15.0" fill="#007a00" stroke="#1a1a1a" stroke-width="0.6"/><rect x="643.50" y="126.0" width="2" height="5.5" fill="#7a0000" stroke="#1a1a1a" stroke-width="0.6"/><rect x="647.50" y="132.0" width="2" height="5.5" fill="#7a0000" stroke="#1a1a1a" stroke-width="0.6"/><rect x="650.25" y="135.8" width="2.5" height="1.4" fill="#222"/><rect x="653.25" y="135.8" width="2.5" height="1.4" fill="#222"/><rect x="657.50" y="128.5" width="2" height="9.0" fill="#007a00" stroke="#1a1a1a" stroke-width="0.6"/><rect x="660.25" y="128.3" width="2.5" height="1.4" fill="#222"/><rect x="664.50" y="115.0" width="2" height="14.5" fill="#007a00" stroke="#1a1a1a" stroke-width="0.6"/><rect x="667.50" y="109.0" width="2" height="6.5" fill="#007a00" stroke="#1a1a1a" stroke-width="0.6"/><rect x="670.25" y="108.3" width="2.5" height="1.4" fill="#222"/><rect x="674.25" y="108.3" width="2.5" height="1.4" fill="#222"/><rect x="677.50" y="109.0" width="2" height="13.0" fill="#7a0000" stroke="#1a1a1a" stroke-width="0.6"/><rect x="680.50" y="115.5" width="2" height="7.0" fill="#007a00" stroke="#1a1a1a" stroke-width="0.6"/><rect x="684.50" y="105.0" width="2" height="10.5" fill="#007a00" stroke="#1a1a1a" stroke-width="0.6"/><rect x="687.25" y="104.3" width="2.5" height="1.4" fill="#222"/><rect x="690.50" y="105.0" width="2" height="32.0" fill="#7a0000" stroke="#1a1a1a" stroke-width="0.6"/><rect x="694.50" y="106.0" width="2" height="29.5" fill="#007a00" stroke="#1a1a1a" stroke-width="0.6"/><rect x="697.50" y="100.0" width="2" height="6.5" fill="#007a00" stroke="#1a1a1a" stroke-width="0.6"/><rect x="700.50" y="101.0" width="2" height="19.0" fill="#7a0000" stroke="#1a1a1a" stroke-width="0.6"/><rect x="704.50" y="119.5" width="2" height="13.0" fill="#7a0000" stroke="#1a1a1a" stroke-width="0.6"/><rect x="707.50" y="116.0" width="2" height="11.0" fill="#007a00" stroke="#1a1a1a" stroke-width="0.6"/><rect x="710.50" y="116.0" width="2" height="6.0" fill="#7a0000" stroke="#1a1a1a" stroke-width="0.6"/><rect x="714.50" y="121.0" width="2" height="4.5" fill="#7a0000" stroke="#1a1a1a" stroke-width="0.6"/><rect x="717.50" y="124.0" width="2" height="2.0" fill="#7a0000" stroke="#1a1a1a" stroke-width="0.6"/><rect x="720.50" y="126.0" width="2" height="36.0" fill="#7a0000" stroke="#1a1a1a" stroke-width="0.6"/><rect x="724.50" y="161.0" width="2" height="16.0" fill="#7a0000" stroke="#1a1a1a" stroke-width="0.6"/><rect x="727.50" y="166.5" width="2" height="10.5" fill="#007a00" stroke="#1a1a1a" stroke-width="0.6"/><rect x="730.50" y="166.5" width="2" height="14.5" fill="#7a0000" stroke="#1a1a1a" stroke-width="0.6"/><path d="M0.0,357.0 L27.0,349.0 L54.0,337.0 L78.5,331.5 L108.0,328.5 L135.0,326.6 L160.0,324.5 L178.6,323.6 L190.0,325.0 L200.0,326.0 L220.0,327.0 L250.0,328.0 L262.0,329.0 L270.0,331.5 L280.0,332.5 L310.0,334.0 L320.0,335.0 L330.0,336.5 L345.0,338.5 L360.0,341.0 L375.0,343.0 L400.0,343.0 L420.0,344.5 L430.5,345.0 L440.0,346.0 L450.0,346.7 L460.0,347.0 L470.0,346.0 L480.0,345.3 L490.0,344.6 L500.0,344.3 L521.5,344.6 L535.8,342.9 L557.3,340.3 L571.7,337.4 L590.3,333.8 L603.2,330.3 L610.0,328.0 L621.1,324.1 L632.3,320.7 L643.4,316.8 L654.6,314.3 L665.7,310.1 L676.9,306.8 L688.0,301.8 L699.2,297.9 L710.3,294.0 L721.5,289.5 L732.0,286.2" fill="none" stroke="#ff0000" stroke-width="1.8" stroke-linejoin="round"/><path d="M0.0,277.8 L10.0,279.0 L20.0,282.7 L40.0,289.6 L60.0,297.0 L77.0,305.0 L95.0,316.5 L105.0,322.0 L110.0,324.3 L122.0,329.5 L137.0,337.0 L150.0,341.0 L165.0,346.5 L176.0,350.0 L185.0,356.0 L195.0,362.0 L203.0,367.0 L215.0,372.5 L230.0,378.0 L250.0,385.0 L265.0,389.0 L280.0,392.0 L300.0,394.0 L320.0,395.0 L345.0,396.5 L360.0,395.5 L375.0,395.0 L385.0,393.0 L395.0,390.0 L405.0,385.5 L420.0,377.3 L429.6,372.5 L439.1,367.8 L448.7,365.8 L458.2,362.0 L467.8,357.2 L477.3,351.5 L486.9,347.2 L496.4,342.9 L506.0,340.0 L515.5,336.7 L520.0,332.4 L531.0,323.5 L542.0,314.6 L553.0,306.2 L564.6,298.4 L575.7,290.1 L587.0,281.7 L600.0,271.9 L610.0,263.1 L624.3,253.1 L638.7,244.5 L653.0,235.2 L667.3,223.7 L681.7,213.7 L696.0,203.0 L710.3,193.6 L719.0,188.6 L731.8,183.3" fill="none" stroke="#0000ff" stroke-width="1.9" stroke-linejoin="round"/><line x1="454.5" y1="77" x2="1153" y2="77" stroke="#6f9ad0" stroke-width="1.6"/><line x1="454.5" y1="351.2" x2="1153" y2="351.2" stroke="#6f9ad0" stroke-width="1.6"/><line x1="601" y1="181.9" x2="1153" y2="181.9" stroke="#b868c0" stroke-width="1.6"/><line x1="601" y1="214.2" x2="1153" y2="214.2" stroke="#b868c0" stroke-width="1.6"/><line x1="601" y1="246.4" x2="1153" y2="246.4" stroke="#b868c0" stroke-width="1.6"/><line x1="454.5" y1="351" x2="601" y2="77.5" stroke="#333" stroke-width="0.9"/><text x="601.5" y="85.6" font-size="9" fill="#4a80c0" stroke="#4a80c0" stroke-width="0.25" text-anchor="start" textLength="16.5" lengthAdjust="spacingAndGlyphs">91.66</text><text x="601" y="359.5" font-size="9" fill="#4a7cb8" stroke="#4a7cb8" stroke-width="0.25" text-anchor="start" textLength="17" lengthAdjust="spacingAndGlyphs">87.54</text><text x="601" y="180.5" font-size="9" fill="#a050b8" stroke="#a050b8" stroke-width="0.25" text-anchor="start" textLength="17" lengthAdjust="spacingAndGlyphs">0.382</text><text x="601" y="190.8" font-size="9" fill="#a050b8" stroke="#a050b8" stroke-width="0.25" text-anchor="start" textLength="17" lengthAdjust="spacingAndGlyphs">90.09</text><text x="601" y="212.8" font-size="9" fill="#a050b8" stroke="#a050b8" stroke-width="0.25" text-anchor="start" textLength="17" lengthAdjust="spacingAndGlyphs">0.500</text><text x="601" y="223.1" font-size="9" fill="#a050b8" stroke="#a050b8" stroke-width="0.25" text-anchor="start" textLength="17" lengthAdjust="spacingAndGlyphs">89.60</text><text x="601" y="245.0" font-size="9" fill="#a050b8" stroke="#a050b8" stroke-width="0.25" text-anchor="start" textLength="17" lengthAdjust="spacingAndGlyphs">0.618</text><text x="601" y="255.3" font-size="9" fill="#a050b8" stroke="#a050b8" stroke-width="0.25" text-anchor="start" textLength="17" lengthAdjust="spacingAndGlyphs">89.11</text><rect x="452" y="171.2" width="328.8" height="59.5" fill="#b0b0f8" style="mix-blend-mode:multiply"/></g><line x1="0" y1="519.6" x2="1159" y2="519.6" stroke="#3434e0" stroke-width="1.5" stroke-dasharray="2 1.73"/><line x1="0" y1="583" x2="1159" y2="583" stroke="#d85454" stroke-width="1.8" stroke-dasharray="2 1.73"/><path d="M0.0,581.0 L5.0,576.0 L12.0,573.0 L20.0,589.5 L25.0,589.0 L28.0,585.0 L35.0,586.0 L40.0,582.0 L45.0,577.0 L48.0,576.0 L55.0,593.0 L60.0,595.0 L65.0,587.0 L66.5,579.0 L70.0,581.0 L76.0,593.0 L82.0,598.0 L90.0,602.0 L92.0,600.5 L100.0,575.0 L110.0,544.0 L115.0,528.0 L117.0,527.0 L120.0,529.0 L125.0,527.0 L130.0,517.0 L134.0,510.0 L137.0,508.5 L140.0,511.0 L145.0,513.0 L150.0,516.0 L155.0,513.0 L158.0,512.0 L163.0,507.0 L167.0,507.0 L170.0,510.5 L174.0,514.0 L178.8,514.0 L182.3,535.0 L185.8,570.0 L187.5,584.0 L190.1,595.4 L193.0,593.0 L196.3,586.0 L201.5,565.0 L207.6,543.0 L211.0,546.4 L215.5,554.0 L220.8,565.0 L226.0,550.0 L230.0,530.6 L235.0,523.6 L238.0,522.0 L242.0,520.0 L247.0,513.0 L250.0,518.0 L254.0,526.0 L257.0,544.0 L260.0,547.0 L263.0,552.0 L266.0,554.0 L270.0,553.0 L274.0,549.0 L277.0,532.0 L280.0,524.0 L283.0,510.0 L285.0,506.0 L288.0,507.0 L292.0,507.0 L295.0,508.5 L297.5,507.0 L302.0,512.0 L307.0,516.5 L311.0,518.0 L315.0,524.0 L318.0,528.0 L322.0,537.0 L324.0,545.0 L326.0,555.0 L328.0,560.0 L331.0,563.0 L334.0,563.0 L337.0,559.0 L341.0,556.0 L343.0,545.0 L346.0,527.0 L350.0,511.0 L354.0,508.0 L357.0,509.0 L360.0,515.0 L363.0,525.0 L366.0,533.0 L369.0,535.0 L371.0,533.0 L375.0,537.0 L378.0,539.0 L381.0,532.0 L384.0,520.0 L387.0,508.0 L390.0,504.0 L393.0,505.0 L396.0,508.0 L400.0,507.0 L404.0,501.0 L407.0,504.0 L410.0,513.0 L413.0,525.0 L415.0,533.0 L418.0,540.0 L421.0,545.0 L424.0,544.0 L427.0,550.0 L430.0,565.0 L433.0,578.0 L436.0,587.0 L439.0,588.0 L443.0,592.0 L447.0,595.0 L451.0,595.0 L454.0,592.0 L457.0,580.0 L460.0,560.0 L463.0,540.0 L466.0,527.0 L470.0,525.0 L474.0,526.0 L478.0,523.0 L482.0,521.0 L486.0,519.0 L489.0,519.0 L492.0,515.0 L494.0,518.0 L497.0,528.0 L500.0,540.0 L503.0,548.0 L506.0,551.0 L508.0,552.0 L511.0,549.0 L514.0,537.0 L517.0,522.0 L520.0,513.0 L523.0,505.0 L526.0,501.0 L529.0,500.0 L532.0,503.0 L534.0,503.0 L538.0,507.0 L541.0,506.0 L545.0,508.0 L549.0,507.0 L553.0,509.0 L556.0,510.0 L560.0,510.0 L563.0,507.0 L565.0,503.0 L568.0,503.0 L571.0,510.0 L573.0,520.0 L575.0,527.0 L578.0,533.0 L582.0,539.0 L585.0,542.0 L588.0,554.0 L591.0,550.0 L594.0,536.0 L597.0,520.0 L599.0,516.0 L600.0,516.0 L602.0,518.0 L605.0,532.0 L608.0,539.0 L611.0,532.0 L614.0,525.0 L617.0,523.0 L620.0,525.0 L623.0,537.0 L626.0,552.0 L630.0,561.0 L633.0,561.0 L636.0,569.0 L639.0,568.0 L642.0,568.0 L645.0,568.0 L648.0,566.0 L651.0,568.0 L655.0,570.0 L658.0,568.0 L660.0,562.0 L663.0,553.0 L666.0,540.0 L669.0,527.0 L672.0,522.0 L675.0,518.0 L678.0,526.0 L682.0,531.0 L685.0,528.0 L688.0,519.0 L691.0,533.0 L694.0,539.0 L697.0,538.0 L700.0,535.0 L702.0,527.0 L705.0,543.0 L708.0,561.0 L711.0,563.0 L715.0,558.0 L718.0,563.0 L721.0,576.0 L724.0,589.0 L728.0,595.0 L731.0,596.0" fill="none" stroke="#ff2a2a" stroke-width="1" stroke-linejoin="round"/><path d="M0.0,581.0 L5.0,580.0 L14.0,574.0 L20.0,583.0 L25.0,588.0 L35.0,585.0 L40.0,586.0 L48.0,578.0 L55.0,591.0 L60.0,594.0 L65.0,590.0 L72.0,582.0 L75.0,585.0 L80.0,592.0 L85.0,597.0 L91.0,600.0 L95.0,597.0 L103.0,575.0 L112.0,545.0 L117.0,532.0 L121.0,528.0 L125.0,527.0 L130.0,521.0 L135.0,513.0 L138.0,510.0 L142.0,511.0 L148.0,514.0 L150.0,515.0 L155.0,514.0 L160.0,511.0 L163.0,509.0 L167.0,507.0 L170.0,509.0 L175.0,513.0 L178.0,513.0 L180.5,519.0 L184.0,538.5 L187.5,563.0 L191.0,584.0 L193.6,591.0 L196.3,592.0 L199.8,587.6 L205.0,568.0 L211.0,550.0 L213.8,547.0 L217.3,551.0 L222.5,560.0 L226.0,558.0 L230.0,546.0 L235.0,530.0 L240.0,524.0 L245.0,519.0 L250.0,518.0 L253.0,520.0 L256.0,530.0 L260.0,543.0 L264.0,550.0 L268.0,552.5 L273.0,551.0 L277.0,540.0 L282.0,522.0 L285.0,519.0 L288.0,512.0 L291.0,508.0 L295.0,508.0 L298.0,508.0 L303.0,511.0 L308.0,515.0 L313.0,519.0 L318.0,525.0 L322.0,533.0 L325.0,545.0 L328.0,553.0 L331.0,560.0 L335.0,562.0 L339.0,559.0 L342.0,555.0 L345.0,548.0 L349.0,530.0 L352.0,516.0 L355.0,510.0 L358.0,509.0 L361.0,512.0 L364.0,521.0 L367.0,528.0 L371.0,533.0 L375.0,536.0 L379.0,537.0 L382.0,533.0 L385.0,523.0 L388.0,511.0 L391.0,506.0 L394.0,506.0 L397.0,507.0 L400.0,507.0 L403.0,505.0 L406.0,504.0 L410.0,509.0 L413.0,520.0 L417.0,533.0 L420.0,540.0 L423.0,543.0 L426.0,547.0 L430.0,560.0 L433.0,570.0 L436.0,580.0 L439.0,588.0 L443.0,591.0 L447.0,594.0 L452.0,594.0 L455.0,591.0 L458.0,582.0 L461.0,565.0 L464.0,548.0 L467.0,536.0 L470.0,531.0 L475.0,525.0 L479.0,524.0 L484.0,522.0 L489.0,520.0 L492.0,518.0 L495.0,521.0 L498.0,528.0 L501.0,537.0 L504.0,545.0 L507.0,548.0 L511.0,547.0 L514.0,541.0 L517.0,530.0 L520.0,518.0 L523.0,509.0 L527.0,503.0 L531.0,502.0 L535.0,504.0 L540.0,506.0 L545.0,507.0 L550.0,508.0 L555.0,509.0 L560.0,509.0 L564.0,506.0 L568.0,505.0 L571.0,507.0 L574.0,516.0 L577.0,527.0 L580.0,534.0 L584.0,540.0 L587.0,546.0 L590.0,549.0 L593.0,548.0 L596.0,540.0 L600.0,528.0 L604.0,521.0 L607.0,528.0 L611.0,533.0 L615.0,532.0 L618.0,526.0 L621.0,525.0 L624.0,531.0 L627.0,543.0 L631.0,550.0 L634.0,556.0 L637.0,563.0 L640.0,567.0 L645.0,568.5 L650.0,567.0 L655.0,567.0 L659.0,567.0 L662.0,564.0 L666.0,551.0 L669.0,537.0 L672.0,526.0 L675.0,523.0 L679.0,527.0 L682.0,530.0 L686.0,527.0 L690.0,531.0 L694.0,537.0 L697.0,538.0 L700.0,536.0 L703.0,540.0 L707.0,552.0 L711.0,560.0 L714.0,562.0 L717.0,565.0 L720.0,572.0 L723.0,583.0 L727.0,591.0 L731.0,594.0" fill="none" stroke="#2a2aff" stroke-width="1" stroke-linejoin="round"/><rect x="0" y="0" width="1160" height="1.2" fill="#000"/><rect x="0" y="0" width="1.2" height="614" fill="#111"/><rect x="1158.8" y="0" width="1.2" height="614.5" fill="#333"/><rect x="0" y="491.9" width="1160" height="1.2" fill="#333"/><rect x="0" y="613.9" width="1160" height="1.2" fill="#333"/><rect x="1157" y="7.8" width="2" height="1" fill="#333"/><rect x="1" y="7.8" width="3" height="1" fill="#333"/><rect x="1155" y="21.1" width="4" height="1" fill="#333"/><rect x="1" y="21.1" width="4.5" height="1" fill="#333"/><rect x="1157" y="34.4" width="2" height="1" fill="#333"/><rect x="1" y="34.4" width="3" height="1" fill="#333"/><rect x="1157" y="47.6" width="2" height="1" fill="#333"/><rect x="1" y="47.6" width="3" height="1" fill="#333"/><rect x="1157" y="60.9" width="2" height="1" fill="#333"/><rect x="1" y="60.9" width="3" height="1" fill="#333"/><rect x="1157" y="74.2" width="2" height="1" fill="#333"/><rect x="1" y="74.2" width="3" height="1" fill="#333"/><rect x="1155" y="87.5" width="4" height="1" fill="#333"/><rect x="1" y="87.5" width="4.5" height="1" fill="#333"/><rect x="1157" y="100.8" width="2" height="1" fill="#333"/><rect x="1" y="100.8" width="3" height="1" fill="#333"/><rect x="1157" y="114.1" width="2" height="1" fill="#333"/><rect x="1" y="114.1" width="3" height="1" fill="#333"/><rect x="1157" y="127.4" width="2" height="1" fill="#333"/><rect x="1" y="127.4" width="3" height="1" fill="#333"/><rect x="1157" y="140.6" width="2" height="1" fill="#333"/><rect x="1" y="140.6" width="3" height="1" fill="#333"/><rect x="1155" y="153.9" width="4" height="1" fill="#333"/><rect x="1" y="153.9" width="4.5" height="1" fill="#333"/><rect x="1157" y="167.2" width="2" height="1" fill="#333"/><rect x="1" y="167.2" width="3" height="1" fill="#333"/><rect x="1157" y="180.5" width="2" height="1" fill="#333"/><rect x="1" y="180.5" width="3" height="1" fill="#333"/><rect x="1157" y="193.8" width="2" height="1" fill="#333"/><rect x="1" y="193.8" width="3" height="1" fill="#333"/><rect x="1157" y="207.1" width="2" height="1" fill="#333"/><rect x="1" y="207.1" width="3" height="1" fill="#333"/><rect x="1155" y="220.4" width="4" height="1" fill="#333"/><rect x="1" y="220.4" width="4.5" height="1" fill="#333"/><rect x="1157" y="233.6" width="2" height="1" fill="#333"/><rect x="1" y="233.6" width="3" height="1" fill="#333"/><rect x="1157" y="246.9" width="2" height="1" fill="#333"/><rect x="1" y="246.9" width="3" height="1" fill="#333"/><rect x="1157" y="260.2" width="2" height="1" fill="#333"/><rect x="1" y="260.2" width="3" height="1" fill="#333"/><rect x="1157" y="273.5" width="2" height="1" fill="#333"/><rect x="1" y="273.5" width="3" height="1" fill="#333"/><rect x="1155" y="286.8" width="4" height="1" fill="#333"/><rect x="1" y="286.8" width="4.5" height="1" fill="#333"/><rect x="1157" y="300.1" width="2" height="1" fill="#333"/><rect x="1" y="300.1" width="3" height="1" fill="#333"/><rect x="1157" y="313.4" width="2" height="1" fill="#333"/><rect x="1" y="313.4" width="3" height="1" fill="#333"/><rect x="1157" y="326.6" width="2" height="1" fill="#333"/><rect x="1" y="326.6" width="3" height="1" fill="#333"/><rect x="1157" y="339.9" width="2" height="1" fill="#333"/><rect x="1" y="339.9" width="3" height="1" fill="#333"/><rect x="1155" y="353.2" width="4" height="1" fill="#333"/><rect x="1" y="353.2" width="4.5" height="1" fill="#333"/><rect x="1157" y="366.5" width="2" height="1" fill="#333"/><rect x="1" y="366.5" width="3" height="1" fill="#333"/><rect x="1157" y="379.8" width="2" height="1" fill="#333"/><rect x="1" y="379.8" width="3" height="1" fill="#333"/><rect x="1157" y="393.1" width="2" height="1" fill="#333"/><rect x="1" y="393.1" width="3" height="1" fill="#333"/><rect x="1157" y="406.4" width="2" height="1" fill="#333"/><rect x="1" y="406.4" width="3" height="1" fill="#333"/><rect x="1155" y="419.6" width="4" height="1" fill="#333"/><rect x="1" y="419.6" width="4.5" height="1" fill="#333"/><rect x="1157" y="432.9" width="2" height="1" fill="#333"/><rect x="1" y="432.9" width="3" height="1" fill="#333"/><rect x="1157" y="446.2" width="2" height="1" fill="#333"/><rect x="1" y="446.2" width="3" height="1" fill="#333"/><rect x="1157" y="459.5" width="2" height="1" fill="#333"/><rect x="1" y="459.5" width="3" height="1" fill="#333"/><rect x="1157" y="472.8" width="2" height="1" fill="#333"/><rect x="1" y="472.8" width="3" height="1" fill="#333"/><rect x="1155" y="486.1" width="4" height="1" fill="#333"/><rect x="1" y="486.1" width="4.5" height="1" fill="#333"/><rect x="1155" y="604.5" width="4" height="1" fill="#333"/><rect x="1" y="604.5" width="4.5" height="1" fill="#333"/><rect x="1157" y="599.2" width="2" height="1" fill="#333"/><rect x="1" y="599.2" width="3" height="1" fill="#333"/><rect x="1157" y="593.9" width="2" height="1" fill="#333"/><rect x="1" y="593.9" width="3" height="1" fill="#333"/><rect x="1157" y="588.5" width="2" height="1" fill="#333"/><rect x="1" y="588.5" width="3" height="1" fill="#333"/><rect x="1157" y="583.2" width="2" height="1" fill="#333"/><rect x="1" y="583.2" width="3" height="1" fill="#333"/><rect x="1155" y="577.9" width="4" height="1" fill="#333"/><rect x="1" y="577.9" width="4.5" height="1" fill="#333"/><rect x="1157" y="572.5" width="2" height="1" fill="#333"/><rect x="1" y="572.5" width="3" height="1" fill="#333"/><rect x="1157" y="567.2" width="2" height="1" fill="#333"/><rect x="1" y="567.2" width="3" height="1" fill="#333"/><rect x="1157" y="561.9" width="2" height="1" fill="#333"/><rect x="1" y="561.9" width="3" height="1" fill="#333"/><rect x="1157" y="556.6" width="2" height="1" fill="#333"/><rect x="1" y="556.6" width="3" height="1" fill="#333"/><rect x="1155" y="551.2" width="4" height="1" fill="#333"/><rect x="1" y="551.2" width="4.5" height="1" fill="#333"/><rect x="1157" y="545.9" width="2" height="1" fill="#333"/><rect x="1" y="545.9" width="3" height="1" fill="#333"/><rect x="1157" y="540.6" width="2" height="1" fill="#333"/><rect x="1" y="540.6" width="3" height="1" fill="#333"/><rect x="1157" y="535.3" width="2" height="1" fill="#333"/><rect x="1" y="535.3" width="3" height="1" fill="#333"/><rect x="1157" y="530.0" width="2" height="1" fill="#333"/><rect x="1" y="530.0" width="3" height="1" fill="#333"/><rect x="1155" y="524.6" width="4" height="1" fill="#333"/><rect x="1" y="524.6" width="4.5" height="1" fill="#333"/><rect x="1157" y="519.3" width="2" height="1" fill="#333"/><rect x="1" y="519.3" width="3" height="1" fill="#333"/><rect x="1157" y="514.0" width="2" height="1" fill="#333"/><rect x="1" y="514.0" width="3" height="1" fill="#333"/><rect x="1157" y="508.6" width="2" height="1" fill="#333"/><rect x="1" y="508.6" width="3" height="1" fill="#333"/><rect x="1157" y="503.3" width="2" height="1" fill="#333"/><rect x="1" y="503.3" width="3" height="1" fill="#333"/><rect x="1155" y="498.0" width="4" height="1" fill="#333"/><rect x="1" y="498.0" width="4.5" height="1" fill="#333"/><text x="1198" y="25.0" font-size="9.5" fill="#222" stroke="#222" stroke-width="0.25" text-anchor="end" textLength="19.3" lengthAdjust="spacingAndGlyphs">92.50</text><text x="1198" y="91.4" font-size="9.5" fill="#222" stroke="#222" stroke-width="0.25" text-anchor="end" textLength="19.3" lengthAdjust="spacingAndGlyphs">91.50</text><text x="1198" y="157.8" font-size="9.5" fill="#222" stroke="#222" stroke-width="0.25" text-anchor="end" textLength="19.3" lengthAdjust="spacingAndGlyphs">90.50</text><text x="1198" y="224.3" font-size="9.5" fill="#222" stroke="#222" stroke-width="0.25" text-anchor="end" textLength="19.3" lengthAdjust="spacingAndGlyphs">89.50</text><text x="1198" y="290.7" font-size="9.5" fill="#222" stroke="#222" stroke-width="0.25" text-anchor="end" textLength="19.3" lengthAdjust="spacingAndGlyphs">88.50</text><text x="1198" y="357.1" font-size="9.5" fill="#222" stroke="#222" stroke-width="0.25" text-anchor="end" textLength="19.3" lengthAdjust="spacingAndGlyphs">87.50</text><text x="1198" y="423.6" font-size="9.5" fill="#222" stroke="#222" stroke-width="0.25" text-anchor="end" textLength="19.3" lengthAdjust="spacingAndGlyphs">86.50</text><text x="1198" y="490.0" font-size="9.5" fill="#222" stroke="#222" stroke-width="0.25" text-anchor="end" textLength="19.3" lengthAdjust="spacingAndGlyphs">85.50</text><text x="1187.8" y="501.8" font-size="9.5" fill="#222" stroke="#222" stroke-width="0.25" text-anchor="end" textLength="12.4" lengthAdjust="spacingAndGlyphs">100</text><text x="1187.8" y="528.4" font-size="9.5" fill="#222" stroke="#222" stroke-width="0.25" text-anchor="end" textLength="8.2" lengthAdjust="spacingAndGlyphs">75</text><text x="1187.8" y="555.0" font-size="9.5" fill="#222" stroke="#222" stroke-width="0.25" text-anchor="end" textLength="8.2" lengthAdjust="spacingAndGlyphs">50</text><text x="1187.8" y="581.7" font-size="9.5" fill="#222" stroke="#222" stroke-width="0.25" text-anchor="end" textLength="8.2" lengthAdjust="spacingAndGlyphs">25</text><text x="1187.8" y="608.3" font-size="9.5" fill="#222" stroke="#222" stroke-width="0.25" text-anchor="end" textLength="5.2" lengthAdjust="spacingAndGlyphs">0</text><rect x="1159.5" y="60" width="40.5" height="10.400000000000006" fill="#000"/><text x="1197.8" y="68.6" font-size="9.5" fill="#fff" stroke="#fff" stroke-width="0.25" text-anchor="end" textLength="19.0" lengthAdjust="spacingAndGlyphs">91.84</text><rect x="1159.5" y="177.5" width="40.5" height="11.099999999999994" fill="#0000ff"/><text x="1197.8" y="186.6" font-size="9.5" fill="#fff" stroke="#fff" stroke-width="0.25" text-anchor="end" textLength="19.0" lengthAdjust="spacingAndGlyphs">90.12</text><rect x="1159.5" y="175.2" width="40.5" height="10.800000000000011" fill="#000"/><text x="1197.8" y="184.2" font-size="9.5" fill="#fff" stroke="#fff" stroke-width="0.25" text-anchor="end" textLength="19.0" lengthAdjust="spacingAndGlyphs">90.11</text><rect x="1159.5" y="227.8" width="40.5" height="9.899999999999977" fill="#000"/><text x="1197.8" y="236" font-size="9.5" fill="#fff" stroke="#fff" stroke-width="0.25" text-anchor="end" textLength="19.0" lengthAdjust="spacingAndGlyphs">89.31</text><rect x="1159.5" y="281.2" width="40.5" height="10.400000000000034" fill="#ff0000"/><text x="1197.8" y="289.6" font-size="9.5" fill="#fff" stroke="#fff" stroke-width="0.25" text-anchor="end" textLength="19.0" lengthAdjust="spacingAndGlyphs">88.51</text><rect x="1159.5" y="591" width="40.5" height="11" fill="#dd0000"/><rect x="1159.5" y="589" width="40.5" height="11" fill="#0000dd"/><text x="1197.8" y="597.8" font-size="9.5" fill="#fff" stroke="#fff" stroke-width="0.25" text-anchor="end" textLength="15" lengthAdjust="spacingAndGlyphs">9.48</text><rect x="1" y="1.2" width="61" height="11.5" fill="#fff"/><rect x="2" y="12.4" width="61" height="1.2" fill="#444"/><rect x="61.9" y="2" width="1.2" height="11.6" fill="#444"/><text x="2" y="10.5" font-size="10" fill="#111" stroke="#111" stroke-width="0.25" text-anchor="start" textLength="59" lengthAdjust="spacingAndGlyphs">CAD/JPY: 4-hour</text><rect x="1" y="493.1" width="38" height="12" fill="#fff"/><rect x="2" y="504.9" width="38" height="1.2" fill="#444"/><rect x="39" y="494" width="1.2" height="12" fill="#444"/><text x="2" y="502.6" font-size="10" fill="#111" stroke="#111" stroke-width="0.25" text-anchor="start" textLength="35.5" lengthAdjust="spacingAndGlyphs">Stochastic</text><text x="2.8" y="613" font-size="9" fill="#222" stroke="#222" stroke-width="0.25" text-anchor="start" textLength="21.5" lengthAdjust="spacingAndGlyphs">Aug 05</text><text x="45.5" y="613" font-size="9" fill="#222" stroke="#222" stroke-width="0.25" text-anchor="start" textLength="21.5" lengthAdjust="spacingAndGlyphs">Aug 09</text><text x="85.7" y="613" font-size="9" fill="#222" stroke="#222" stroke-width="0.25" text-anchor="start" textLength="21.5" lengthAdjust="spacingAndGlyphs">Aug 11</text><text x="125.8" y="613" font-size="9" fill="#222" stroke="#222" stroke-width="0.25" text-anchor="start" textLength="21.5" lengthAdjust="spacingAndGlyphs">Aug 15</text><text x="166.0" y="613" font-size="9" fill="#222" stroke="#222" stroke-width="0.25" text-anchor="start" textLength="21.5" lengthAdjust="spacingAndGlyphs">Aug 17</text><text x="206.2" y="613" font-size="9" fill="#222" stroke="#222" stroke-width="0.25" text-anchor="start" textLength="21.5" lengthAdjust="spacingAndGlyphs">Aug 21</text><text x="246.4" y="613" font-size="9" fill="#222" stroke="#222" stroke-width="0.25" text-anchor="start" textLength="21.5" lengthAdjust="spacingAndGlyphs">Aug 23</text><text x="286.5" y="613" font-size="9" fill="#222" stroke="#222" stroke-width="0.25" text-anchor="start" textLength="21.5" lengthAdjust="spacingAndGlyphs">Aug 25</text><text x="326.7" y="613" font-size="9" fill="#222" stroke="#222" stroke-width="0.25" text-anchor="start" textLength="21.5" lengthAdjust="spacingAndGlyphs">Aug 29</text><text x="366.9" y="613" font-size="9" fill="#222" stroke="#222" stroke-width="0.25" text-anchor="start" textLength="21.5" lengthAdjust="spacingAndGlyphs">Aug 31</text><text x="407.0" y="613" font-size="9" fill="#222" stroke="#222" stroke-width="0.25" text-anchor="start" textLength="21.5" lengthAdjust="spacingAndGlyphs">Sep 04</text><text x="447.2" y="613" font-size="9" fill="#222" stroke="#222" stroke-width="0.25" text-anchor="start" textLength="21.5" lengthAdjust="spacingAndGlyphs">Sep 06</text><text x="487.4" y="613" font-size="9" fill="#222" stroke="#222" stroke-width="0.25" text-anchor="start" textLength="21.5" lengthAdjust="spacingAndGlyphs">Sep 08</text><text x="527.5" y="613" font-size="9" fill="#222" stroke="#222" stroke-width="0.25" text-anchor="start" textLength="21.5" lengthAdjust="spacingAndGlyphs">Sep 12</text><text x="567.7" y="613" font-size="9" fill="#222" stroke="#222" stroke-width="0.25" text-anchor="start" textLength="21.5" lengthAdjust="spacingAndGlyphs">Sep 14</text><text x="607.9" y="613" font-size="9" fill="#222" stroke="#222" stroke-width="0.25" text-anchor="start" textLength="21.5" lengthAdjust="spacingAndGlyphs">Sep 18</text><text x="648.1" y="613" font-size="9" fill="#222" stroke="#222" stroke-width="0.25" text-anchor="start" textLength="21.5" lengthAdjust="spacingAndGlyphs">Sep 20</text><text x="688.2" y="613" font-size="9" fill="#222" stroke="#222" stroke-width="0.25" text-anchor="start" textLength="21.5" lengthAdjust="spacingAndGlyphs">Sep 22</text><text x="728.4" y="613" font-size="9" fill="#222" stroke="#222" stroke-width="0.25" text-anchor="start" textLength="21.5" lengthAdjust="spacingAndGlyphs">Sep 26</text><rect x="1" y="614.5" width="1.2" height="14" fill="#777"/><text x="3.4" y="626.2" font-size="9" fill="#222" stroke="#222" stroke-width="0.25" text-anchor="start" textLength="9" lengthAdjust="spacingAndGlyphs">12:</text><rect x="13.5" y="614.5" width="8.5" height="14" fill="#fff" stroke="#888" stroke-width="0.9"/><text x="24" y="626.2" font-size="9" fill="#222" stroke="#222" stroke-width="0.25" text-anchor="start" textLength="13" lengthAdjust="spacingAndGlyphs">AM</text><rect x="43.9" y="614.5" width="1.2" height="14" fill="#777"/><text x="45.5" y="626.2" font-size="9" fill="#222" stroke="#222" stroke-width="0.25" text-anchor="start" textLength="30" lengthAdjust="spacingAndGlyphs">4:00 AM</text><rect x="84.1" y="614.5" width="1.2" height="14" fill="#777"/><text x="85.7" y="626.2" font-size="9" fill="#222" stroke="#222" stroke-width="0.25" text-anchor="start" textLength="30" lengthAdjust="spacingAndGlyphs">4:00 AM</text><rect x="124.2" y="614.5" width="1.2" height="14" fill="#777"/><text x="125.8" y="626.2" font-size="9" fill="#222" stroke="#222" stroke-width="0.25" text-anchor="start" textLength="30" lengthAdjust="spacingAndGlyphs">4:00 AM</text><rect x="164.4" y="614.5" width="1.2" height="14" fill="#777"/><text x="166.0" y="626.2" font-size="9" fill="#222" stroke="#222" stroke-width="0.25" text-anchor="start" textLength="30" lengthAdjust="spacingAndGlyphs">4:00 AM</text><rect x="204.6" y="614.5" width="1.2" height="14" fill="#777"/><text x="206.2" y="626.2" font-size="9" fill="#222" stroke="#222" stroke-width="0.25" text-anchor="start" textLength="30" lengthAdjust="spacingAndGlyphs">4:00 AM</text><rect x="244.8" y="614.5" width="1.2" height="14" fill="#777"/><text x="246.4" y="626.2" font-size="9" fill="#222" stroke="#222" stroke-width="0.25" text-anchor="start" textLength="30" lengthAdjust="spacingAndGlyphs">4:00 AM</text><rect x="284.9" y="614.5" width="1.2" height="14" fill="#777"/><text x="286.5" y="626.2" font-size="9" fill="#222" stroke="#222" stroke-width="0.25" text-anchor="start" textLength="30" lengthAdjust="spacingAndGlyphs">4:00 AM</text><rect x="325.1" y="614.5" width="1.2" height="14" fill="#777"/><text x="326.7" y="626.2" font-size="9" fill="#222" stroke="#222" stroke-width="0.25" text-anchor="start" textLength="30" lengthAdjust="spacingAndGlyphs">4:00 AM</text><rect x="365.3" y="614.5" width="1.2" height="14" fill="#777"/><text x="366.9" y="626.2" font-size="9" fill="#222" stroke="#222" stroke-width="0.25" text-anchor="start" textLength="30" lengthAdjust="spacingAndGlyphs">4:00 AM</text><rect x="405.4" y="614.5" width="1.2" height="14" fill="#777"/><text x="407.0" y="626.2" font-size="9" fill="#222" stroke="#222" stroke-width="0.25" text-anchor="start" textLength="30" lengthAdjust="spacingAndGlyphs">4:00 AM</text><rect x="445.6" y="614.5" width="1.2" height="14" fill="#777"/><text x="447.2" y="626.2" font-size="9" fill="#222" stroke="#222" stroke-width="0.25" text-anchor="start" textLength="30" lengthAdjust="spacingAndGlyphs">4:00 AM</text><rect x="485.8" y="614.5" width="1.2" height="14" fill="#777"/><text x="487.4" y="626.2" font-size="9" fill="#222" stroke="#222" stroke-width="0.25" text-anchor="start" textLength="30" lengthAdjust="spacingAndGlyphs">4:00 AM</text><rect x="525.9" y="614.5" width="1.2" height="14" fill="#777"/><text x="527.5" y="626.2" font-size="9" fill="#222" stroke="#222" stroke-width="0.25" text-anchor="start" textLength="30" lengthAdjust="spacingAndGlyphs">4:00 AM</text><rect x="566.1" y="614.5" width="1.2" height="14" fill="#777"/><text x="567.7" y="626.2" font-size="9" fill="#222" stroke="#222" stroke-width="0.25" text-anchor="start" textLength="30" lengthAdjust="spacingAndGlyphs">4:00 AM</text><rect x="606.3" y="614.5" width="1.2" height="14" fill="#777"/><text x="607.9" y="626.2" font-size="9" fill="#222" stroke="#222" stroke-width="0.25" text-anchor="start" textLength="30" lengthAdjust="spacingAndGlyphs">4:00 AM</text><rect x="646.5" y="614.5" width="1.2" height="14" fill="#777"/><text x="648.1" y="626.2" font-size="9" fill="#222" stroke="#222" stroke-width="0.25" text-anchor="start" textLength="30" lengthAdjust="spacingAndGlyphs">4:00 AM</text><rect x="686.6" y="614.5" width="1.2" height="14" fill="#777"/><text x="688.2" y="626.2" font-size="9" fill="#222" stroke="#222" stroke-width="0.25" text-anchor="start" textLength="30" lengthAdjust="spacingAndGlyphs">4:00 AM</text><rect x="726.8" y="614.5" width="1.2" height="14" fill="#777"/><text x="728.4" y="626.2" font-size="9" fill="#222" stroke="#222" stroke-width="0.25" text-anchor="start" textLength="30" lengthAdjust="spacingAndGlyphs">4:00 AM</text><g fill="none" stroke="#2255ff" stroke-width="1.2"><path d="M1167.5,617.4 h2.5 a2.4,2.4 0 0 1 0,4.8 h-2.5 a2.4,2.4 0 0 1 0,-4.8 z"/><path d="M1170.5,620 h2.5 a2.4,2.4 0 0 1 0,4.8 h-2.5 a2.4,2.4 0 0 1 0,-4.8 z"/></g><g stroke="#ff0a0a" stroke-width="1.5" fill="none"><line x1="1180" y1="621.5" x2="1186.5" y2="621.5"/><polyline points="1182.6,617.8 1186,621.5 1182.6,624.8"/></g><rect x="1187.1" y="617.3" width="1.7" height="7.4" fill="#ff1a1a"/></svg></body></html>
